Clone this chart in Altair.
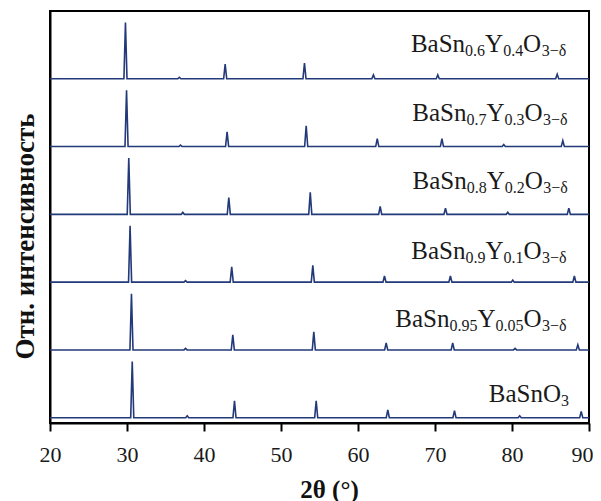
import altair as alt
import pandas as pd

# ---- data -------------------------------------------------------------
tick_values = [20, 30, 40, 50, 60, 70, 80, 90]

# samples from top to bottom
sample_ids = ["Y0.4", "Y0.3", "Y0.2", "Y0.1", "Y0.05", "BaSnO3"]

# label pieces: (text, is_subscript)
label_parts = [
    [("BaSn", 0), ("0.6", 1), ("Y", 0), ("0.4", 1), ("O", 0), ("3\u2212\u03b4", 1)],
    [("BaSn", 0), ("0.7", 1), ("Y", 0), ("0.3", 1), ("O", 0), ("3\u2212\u03b4", 1)],
    [("BaSn", 0), ("0.8", 1), ("Y", 0), ("0.2", 1), ("O", 0), ("3\u2212\u03b4", 1)],
    [("BaSn", 0), ("0.9", 1), ("Y", 0), ("0.1", 1), ("O", 0), ("3\u2212\u03b4", 1)],
    [("BaSn", 0), ("0.95", 1), ("Y", 0), ("0.05", 1), ("O", 0), ("3\u2212\u03b4", 1)],
    [("BaSnO", 0), ("3", 1)],
]
label_right_2theta = [87.04, 87.21, 87.25, 87.08, 87.08, 87.4]
label_height = [0.389, 0.383, 0.375, 0.339, 0.332, 0.236]   # above own baseline

# peak positions (2θ, degrees) and relative intensities (% of strongest)
peaks_pos = [
    [29.80, 36.8, 42.75, 53.05, 62.0, 70.36, 85.87],
    [29.94, 36.95, 43.0, 53.27, 62.5, 70.9, 78.93, 86.6],
    [30.23, 37.25, 43.22, 53.8, 62.88, 71.36, 79.45, 87.38],
    [30.40, 37.6, 43.6, 54.13, 63.44, 72.0, 80.1, 88.1],
    [30.58, 37.6, 43.74, 54.26, 63.66, 72.3, 80.4, 88.55],
    [30.68, 37.82, 43.96, 54.57, 63.87, 72.53, 81.0, 88.99],
]
peaks_int = [
    [100, 2.6, 26, 28, 7, 7, 8],
    [100, 2.6, 26, 37, 14, 14, 3.5, 10.5],
    [100, 3.5, 30, 39, 14, 11, 3.5, 11],
    [100, 2.6, 27, 30, 11, 11, 3.5, 11],
    [100, 2.6, 27, 32, 12.5, 12.5, 2.6, 9],
    [100, 3.5, 30, 30, 14, 12.5, 3.5, 11],
]

# ---- styling constants ---------------------------------------------------
W, H = 539, 412
X_MIN, X_MAX = 20, 90
PX_PER_DEG = W / (X_MAX - X_MIN)
STRONGEST = 0.83        # height of the strongest peak, in trace spacings
HALF_WIDTH = 0.2        # half width of a peak foot, degrees
LINE_COLOR = "#22397a"
FONT = "'Liberation Serif', 'Times New Roman', serif"
MAIN_SIZE, SUB_SIZE = 25, 16

# ---- build tables -------------------------------------------------------
n = len(sample_ids)
rows = []
for i, sid in enumerate(sample_ids):
    base = n - 1 - i
    pts = [(X_MIN, base)]
    for p, inten in sorted(zip(peaks_pos[i], peaks_int[i])):
        pts += [(p - HALF_WIDTH, base), (p, base + STRONGEST * inten / 100), (p + HALF_WIDTH, base)]
    pts.append((X_MAX, base))
    for k, (xx, yy) in enumerate(pts):
        rows.append({"sample": sid, "x": xx, "y": yy, "k": k})
lines_df = pd.DataFrame(rows)

char_w = {"B": 0.667, "a": 0.444, "S": 0.556, "n": 0.5, "Y": 0.722, "O": 0.722,
          ".": 0.25, "\u2212": 0.564, "\u03b4": 0.5}
for d in "0123456789":
    char_w[d] = 0.5

main_rows, sub_rows = [], []
for i, parts in enumerate(label_parts):
    base = n - 1 - i
    cursor = 0.0
    for text, is_sub in reversed(parts):
        size = SUB_SIZE if is_sub else MAIN_SIZE
        row = {"x": label_right_2theta[i] - cursor / PX_PER_DEG,
               "y": base + label_height[i], "t": text}
        (sub_rows if is_sub else main_rows).append(row)
        cursor += sum(char_w.get(c, 0.5) for c in text) * size
main_df = pd.DataFrame(main_rows)
sub_df = pd.DataFrame(sub_rows)

# ---- chart --------------------------------------------------------------
x_enc = alt.X("x:Q", scale=alt.Scale(domain=[X_MIN, X_MAX], nice=False, zero=False),
              axis=alt.Axis(values=tick_values, title="2\u03b8 (\u00b0)", grid=False,
                            labelFlush=False, labelOverlap=False,
                            labelOffset={"condition": {"test": "datum.value == 90", "value": -7},
                                         "value": 0},
                            domainColor="black", domainWidth=2,
                            tickColor="black", tickWidth=2, tickSize=8,
                            labelFont=FONT, labelFontSize=22, labelColor="#1a1a1a",
                            labelPadding=13,
                            titleFont=FONT, titleFontSize=25, titleFontWeight="bold",
                            titleColor="#111", titleX=279, titleY=74,
                            titleAlign="center", titleBaseline="alphabetic"))
y_enc = alt.Y("y:Q", scale=alt.Scale(domain=[-0.078, 6.0], nice=False, zero=False),
              axis=alt.Axis(labels=False, ticks=False, grid=False,
                            domainColor="black", domainWidth=2,
                            title="Отн. интенсивность",
                            titleFont=FONT, titleFontSize=27, titleFontWeight="bold",
                            titleColor="#111", titleAngle=270, titleX=-17, titleY=225,
                            titleAlign="center", titleBaseline="alphabetic"))

lines = alt.Chart(lines_df).mark_line(color=LINE_COLOR, strokeWidth=1.6).encode(
    x=x_enc, y=y_enc, detail="sample:N", order="k:Q")

main_text = alt.Chart(main_df).mark_text(
    font=FONT, fontSize=MAIN_SIZE, align="right", baseline="alphabetic", color="#1a1a1a"
).encode(x=x_enc, y=y_enc, text="t:N")

sub_text = alt.Chart(sub_df).mark_text(
    font=FONT, fontSize=SUB_SIZE, align="right", baseline="alphabetic", dy=4, color="#1a1a1a"
).encode(x=x_enc, y=y_enc, text="t:N")

chart = alt.layer(lines, main_text, sub_text).properties(
    width=W, height=H, autosize="none",
    padding={"left": 42, "top": 3, "right": 4, "bottom": 78},
    background="white",
).configure_view(stroke="black", strokeWidth=2)

chart.save("out.html", embed_options={"renderer": "svg", "actions": False})
